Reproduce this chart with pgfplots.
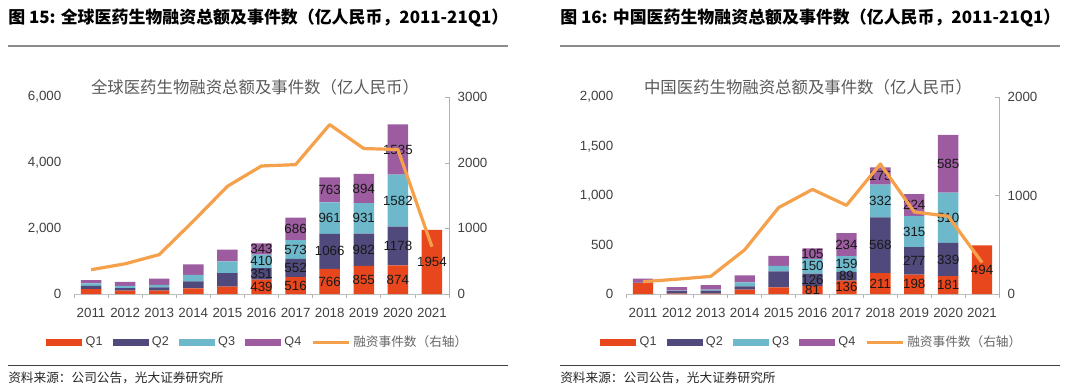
\documentclass[border=0pt]{standalone}
\usepackage{fontspec}
\setmainfont{Liberation Sans}
\newfontfamily\cjk{Noto Sans CJK SC}
\usepackage{pgfplots}
\pgfplotsset{compat=1.18}
\usepackage{pgfplotstable}

\definecolor{q1}{HTML}{E8471E}
\definecolor{q2}{HTML}{4F4A7B}
\definecolor{q3}{HTML}{6DB8CB}
\definecolor{q4}{HTML}{9C5C9F}
\definecolor{ln}{HTML}{F5A04B}
\definecolor{tx}{HTML}{404040}

\pgfplotstableread{
x q1 q2 q3 q4 n
0 150 100 70 100 370
1 100 80 70 120 460
2 100 100 80 190 600
3 170 215 195 320 1110
4 225 410 360 360 1640
5 439 351 410 343 1950
6 516 552 573 686 1970
7 766 1066 961 763 2580
8 855 982 931 894 2215
9 874 1178 1582 1535 2200
10 1954 0 0 0 720
}\globaldata

\pgfplotstableread{
x y l
5 219.5 439
5 614.5 351
5 995 410
5 1371.5 343
6 258 516
6 792 552
6 1354.5 573
6 1984 686
7 383 766
7 1299 1066
7 2312.5 961
7 3174.5 763
8 427.5 855
8 1346 982
8 2302.5 931
8 3215 894
9 437 874
9 1463 1178
9 2843 1582
9 4401.5 1535
10 977 1954
}\globallabels

\pgfplotstableread{
x q1 q2 q3 q4 n
0 110 5 0 40 125
1 5 25 5 35 150
2 5 30 10 45 179
3 44 34 40 71 449
4 67 162 57 100 877
5 81 126 150 105 1062
6 136 89 159 234 900
7 211 568 332 175 1320
8 198 277 315 224 833
9 181 339 510 585 790
10 494 0 0 0 320
}\chinadata

\pgfplotstableread{
x y l
5 40.5 81
5 144 126
5 282 150
5 409.5 105
6 68 136
6 180.5 89
6 304.5 159
6 501 234
7 105.5 211
7 495 568
7 945 332
7 1198.5 175
8 99 198
8 336.5 277
8 632.5 315
8 902 224
9 90.5 181
9 350.5 339
9 775 510
9 1322.5 585
10 247 494
}\chinalabels

\pgfplotsset{
  sw/.style={fill=#1, draw=none, legend image code/.code={\fill[#1] (0pt,-2.7pt) rectangle (27pt,2.7pt);}},
  base/.style={scale only axis, anchor=south west, xmin=-0.5, xmax=10.5, ymin=0, enlargelimits=false,
    /pgf/number format/assume math mode=true, scaled y ticks=false},
  barax/.style={base, ybar stacked, bar width=0.6,
    axis x line*=bottom, axis y line*=left,
    y axis line style={draw=none}, x axis line style={draw=black!25, line width=0.6pt},
    xtick={0,...,10}, xticklabels={2011,2012,2013,2014,2015,2016,2017,2018,2019,2020,2021},
    minor xtick={-0.5,0.5,...,10.5}, tick align=outside, major tick length=0pt, minor tick length=3pt,
    minor x tick style={draw=black!30, line width=0.5pt}, ytick style={draw=none}, xtick style={draw=none},
    tick label style={font=\fontsize{10}{12}\selectfont, text=tx},
    yticklabel style={xshift=-6pt}, xticklabel style={yshift=-6.75pt},
    legend style={anchor=center, draw=none, fill=none, legend columns=5,
      font=\fontsize{9.5}{11}\selectfont, text=tx, inner sep=0pt,
      /tikz/every even column/.append style={column sep=5pt},
      nodes={inner xsep=2.5pt, inner ysep=0pt}}},
  lblax/.style={base, hide axis},
  lnax/.style={base, axis x line=none, axis y line*=right,
    y axis line style={draw=black!30, line width=0.6pt}, ytick style={draw=black!30},
    tick align=inside, major tick length=3pt,
    yticklabel style={font=\fontsize{10}{12}\selectfont, text=tx, xshift=3pt},
    /pgf/number format/1000 sep={}},
  lbl/.style={draw=none, mark=none, nodes near coords, point meta=explicit symbolic,
    every node near coord/.style={anchor=center, font=\fontsize{10}{12}\selectfont, text=black!90, inner sep=0pt}},
}

\begin{document}
\begin{tikzpicture}
\useasboundingbox (0pt,0pt) rectangle (810pt,-291.75pt);

% ---------- titles ----------
\node[anchor=west, inner sep=0pt] at (6pt,-13.5pt) {\cjk\bfseries\fontsize{12.7}{14}\selectfont 图 15: 全球医药生物融资总额及事件数（亿人民币，2011-21Q1）};
\draw[black!45, line width=1.2pt] (6pt,-34.5pt) -- (381pt,-34.5pt);
\node[anchor=west, inner sep=0pt] at (420pt,-13.5pt) {\cjk\bfseries\fontsize{12.7}{14}\selectfont 图 16: 中国医药生物融资总额及事件数（亿人民币，2011-21Q1）};
\draw[black!45, line width=1.2pt] (420pt,-34.5pt) -- (795pt,-34.5pt);

\node at (191.25pt,-65.25pt) {\cjk\fontsize{12.3}{14}\selectfont\color{black!65}全球医药生物融资总额及事件数（亿人民币）};
\node at (606pt,-65.25pt) {\cjk\fontsize{12.3}{14}\selectfont\color{black!65}中国医药生物融资总额及事件数（亿人民币）};

% ---------- sources ----------
\draw[black!75, line width=0.7pt] (6pt,-273.75pt) -- (381pt,-273.75pt);
\node[anchor=west, inner sep=0pt] at (6pt,-283.5pt) {\cjk\fontsize{9.5}{11}\selectfont\color{black!85}资料来源：公司公告，光大证券研究所};
\draw[black!75, line width=0.7pt] (420pt,-273.75pt) -- (795pt,-273.75pt);
\node[anchor=west, inner sep=0pt] at (420pt,-283.5pt) {\cjk\fontsize{9.5}{11}\selectfont\color{black!85}资料来源：公司公告，光大证券研究所};

% ---------- global chart ----------
\begin{axis}[barax, at={(55.5pt,-220.5pt)}, width=281.25pt, height=147.75pt,
  ymax=6000, ytick={0,2000,4000,6000},
  legend style={at={(0.492,-0.245)}}]
\addplot[sw=q1] table[x=x,y=q1]{\globaldata};
\addplot[sw=q2] table[x=x,y=q2]{\globaldata};
\addplot[sw=q3] table[x=x,y=q3]{\globaldata};
\addplot[sw=q4] table[x=x,y=q4]{\globaldata};
\addlegendimage{legend image code/.code={\draw[ln,line width=2pt] (0pt,0pt)--(27pt,0pt);}}
\legend{Q1,Q2,Q3,Q4,{\cjk\color{black!60}融资事件数（右轴）}}
\end{axis}
\begin{axis}[lblax, at={(55.5pt,-220.5pt)}, width=281.25pt, height=147.75pt, ymax=6000]
\addplot[lbl] table[x=x,y=y,meta=l]{\globallabels};
\end{axis}
\begin{axis}[lnax, at={(55.5pt,-220.5pt)}, width=281.25pt, height=147.75pt,
  ymax=3000, ytick={0,1000,2000,3000}]
\addplot[ln, line width=2.4pt, line join=round, mark=none] table[x=x,y=n]{\globaldata};
\end{axis}

% ---------- china chart ----------
\begin{axis}[barax, at={(469.5pt,-220.5pt)}, width=279.75pt, height=147.75pt,
  ymax=2000, ytick={0,500,1000,1500,2000},
  legend style={at={(0.5,-0.245)}}]
\addplot[sw=q1] table[x=x,y=q1]{\chinadata};
\addplot[sw=q2] table[x=x,y=q2]{\chinadata};
\addplot[sw=q3] table[x=x,y=q3]{\chinadata};
\addplot[sw=q4] table[x=x,y=q4]{\chinadata};
\addlegendimage{legend image code/.code={\draw[ln,line width=2pt] (0pt,0pt)--(27pt,0pt);}}
\legend{Q1,Q2,Q3,Q4,{\cjk\color{black!60}融资事件数（右轴）}}
\end{axis}
\begin{axis}[lblax, at={(469.5pt,-220.5pt)}, width=279.75pt, height=147.75pt, ymax=2000]
\addplot[lbl] table[x=x,y=y,meta=l]{\chinalabels};
\end{axis}
\begin{axis}[lnax, at={(469.5pt,-220.5pt)}, width=279.75pt, height=147.75pt,
  ymax=2000, ytick={0,1000,2000}]
\addplot[ln, line width=2.4pt, line join=round, mark=none] table[x=x,y=n]{\chinadata};
\end{axis}
\end{tikzpicture}
\end{document}
